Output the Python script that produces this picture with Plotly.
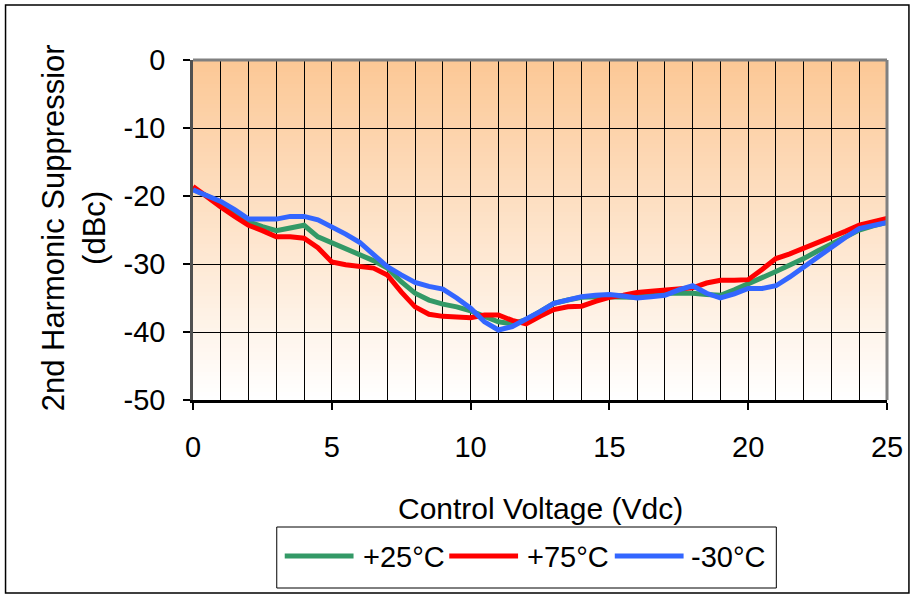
import plotly.graph_objects as go

# ---- data ----
voltage = [i * 0.5 for i in range(51)]

t_p25 = [-19.0, -20.0, -21.0, -22.3, -23.8, -24.5, -25.1, -24.7, -24.3, -26.0,
         -26.9, -27.7, -28.5, -29.5, -30.6, -32.6, -34.3, -35.3, -35.9, -36.3,
         -36.9, -37.7, -38.5, -38.8, -38.2, -37.0, -35.8, -35.3, -34.9, -34.8,
         -34.8, -34.9, -34.9, -34.5, -34.3, -34.3, -34.3, -34.5, -34.6, -33.8,
         -32.8, -32.0, -31.1, -30.2, -29.2, -28.1, -27.0, -26.0, -25.0, -24.4,
         -23.9]

t_p75 = [-18.6, -20.2, -21.6, -23.0, -24.3, -25.1, -26.0, -26.0, -26.2, -27.6,
         -29.7, -30.1, -30.3, -30.6, -31.6, -34.1, -36.3, -37.4, -37.7, -37.8,
         -37.9, -37.5, -37.5, -38.3, -38.8, -37.7, -36.7, -36.3, -36.2, -35.5,
         -34.9, -34.6, -34.2, -34.0, -33.8, -33.6, -33.5, -32.8, -32.4, -32.4,
         -32.3, -30.8, -29.2, -28.5, -27.7, -26.9, -26.1, -25.2, -24.3, -23.8,
         -23.3]

t_m30 = [-19.1, -20.0, -20.8, -22.0, -23.4, -23.4, -23.4, -23.0, -23.0, -23.5,
         -24.5, -25.6, -26.8, -28.5, -30.4, -31.6, -32.7, -33.3, -33.7, -35.0,
         -36.5, -38.5, -39.7, -39.2, -38.2, -37.0, -35.8, -35.3, -34.8, -34.6,
         -34.5, -34.7, -35.0, -34.8, -34.6, -33.8, -33.2, -34.3, -35.0, -34.4,
         -33.6, -33.6, -33.2, -31.9, -30.4, -28.9, -27.4, -26.1, -24.8, -24.3,
         -23.9]

series_names = ["+25°C", "+75°C", "-30°C"]
series_colors = ["#339966", "#FF0000", "#3366FF"]
series_values = [t_p25, t_p75, t_m30]

x_ticks = [0, 5, 10, 15, 20, 25]
y_ticks = [0, -10, -20, -30, -40, -50]

# ---- layout geometry (pixels) ----
W, H = 915, 596
L, R, T, B = 193, 889, 60, 400
PW, PH = R - L, B - T


def px(xp):
    return (xp - L) / PW


def py(yp):
    return (B - yp) / PH


FONT = "Liberation Sans, Arial, sans-serif"
FS = 29
FT = 30

fig = go.Figure()
for name, color, vals in zip(series_names, series_colors, series_values):
    fig.add_trace(go.Scatter(x=voltage, y=vals, mode="lines", name=name,
                             line=dict(color=color, width=5),
                             showlegend=False))

shapes = []
# gradient background (orange top -> white bottom)
N = 85
top = (252, 200, 150)
for i in range(N):
    f = i / (N - 1)
    c = tuple(round(top[k] + (255 - top[k]) * f) for k in range(3))
    y0 = 0 - 50 * i / N
    y1 = 0 - 50 * (i + 1) / N
    shapes.append(dict(type="rect", xref="x", yref="y", x0=0, x1=25, y0=y0, y1=y1,
                       fillcolor="rgb(%d,%d,%d)" % c, line=dict(width=0),
                       layer="below"))
# gray top/right frame
shapes.append(dict(type="line", xref="paper", yref="paper", x0=0, x1=1, y0=1, y1=1,
                   line=dict(color="#808080", width=3)))
shapes.append(dict(type="line", xref="paper", yref="paper", x0=1, x1=1, y0=0, y1=1,
                   line=dict(color="#808080", width=3)))
# outer figure border
shapes.append(dict(type="rect", xref="paper", yref="paper",
                   x0=px(5), x1=px(911), y0=py(5), y1=py(593),
                   line=dict(color="#000000", width=1.5)))
# legend box
shapes.append(dict(type="rect", xref="paper", yref="paper",
                   x0=px(277), x1=px(778), y0=py(527), y1=py(588),
                   line=dict(color="#000000", width=1), fillcolor="white"))

annotations = []
leg_y = 557
leg_line_x = [285, 450, 616]
leg_text_x = [361, 526, 690]
for name, color, lx, tx in zip(series_names, series_colors, leg_line_x, leg_text_x):
    shapes.append(dict(type="line", xref="paper", yref="paper",
                       x0=px(lx), x1=px(lx + 69), y0=py(leg_y - 1), y1=py(leg_y - 1),
                       line=dict(color=color, width=5)))
    annotations.append(dict(xref="paper", yref="paper", x=px(tx), y=py(leg_y),
                            xanchor="left", yanchor="middle", text=name,
                            showarrow=False, font=dict(family=FONT, size=FS, color="black")))

annotations.append(dict(xref="paper", yref="paper", x=px(541), y=py(508),
                        xanchor="center", yanchor="middle", text="Control Voltage (Vdc)",
                        showarrow=False, font=dict(family=FONT, size=FT, color="black")))
annotations.append(dict(xref="paper", yref="paper", x=px(73), y=py(228),
                        xanchor="center", yanchor="middle",
                        text="2nd Harmonic Suppressior<br>(dBc)", textangle=-90,
                        showarrow=False, font=dict(family=FONT, size=FT + 1, color="black")))

fig.update_layout(
    width=W, height=H,
    margin=dict(l=L, r=W - R, t=T, b=H - B, pad=0),
    paper_bgcolor="white", plot_bgcolor="rgba(0,0,0,0)",
    shapes=shapes, annotations=annotations, showlegend=False,
    font=dict(family=FONT, size=FS, color="black"),
)
fig.update_xaxes(range=[0, 25], tickvals=x_ticks, ticktext=[str(v) for v in x_ticks],
                 ticks="outside", ticklen=7, tickwidth=1.5, tickcolor="black",
                 ticklabelstandoff=12,
                 showgrid=True, gridcolor="black", gridwidth=1,
                 minor=dict(dtick=1, showgrid=True, gridcolor="black", gridwidth=1),
                 showline=True, linecolor="black", linewidth=2.5,
                 zeroline=False, fixedrange=True,
                 tickfont=dict(family=FONT, size=FS, color="black"))
fig.update_yaxes(range=[-50, 0], tickvals=y_ticks, ticktext=[str(v) for v in y_ticks],
                 ticks="outside", ticklen=7, tickwidth=1.5, tickcolor="black",
                 ticklabelstandoff=12,
                 showgrid=True, gridcolor="black", gridwidth=1,
                 showline=True, linecolor="#505050", linewidth=2.5,
                 zeroline=False, fixedrange=True,
                 tickfont=dict(family=FONT, size=FS, color="black"))

fig.write_html("out.html", config={"displayModeBar": False},
               post_script="document.body.style.margin='0';")
